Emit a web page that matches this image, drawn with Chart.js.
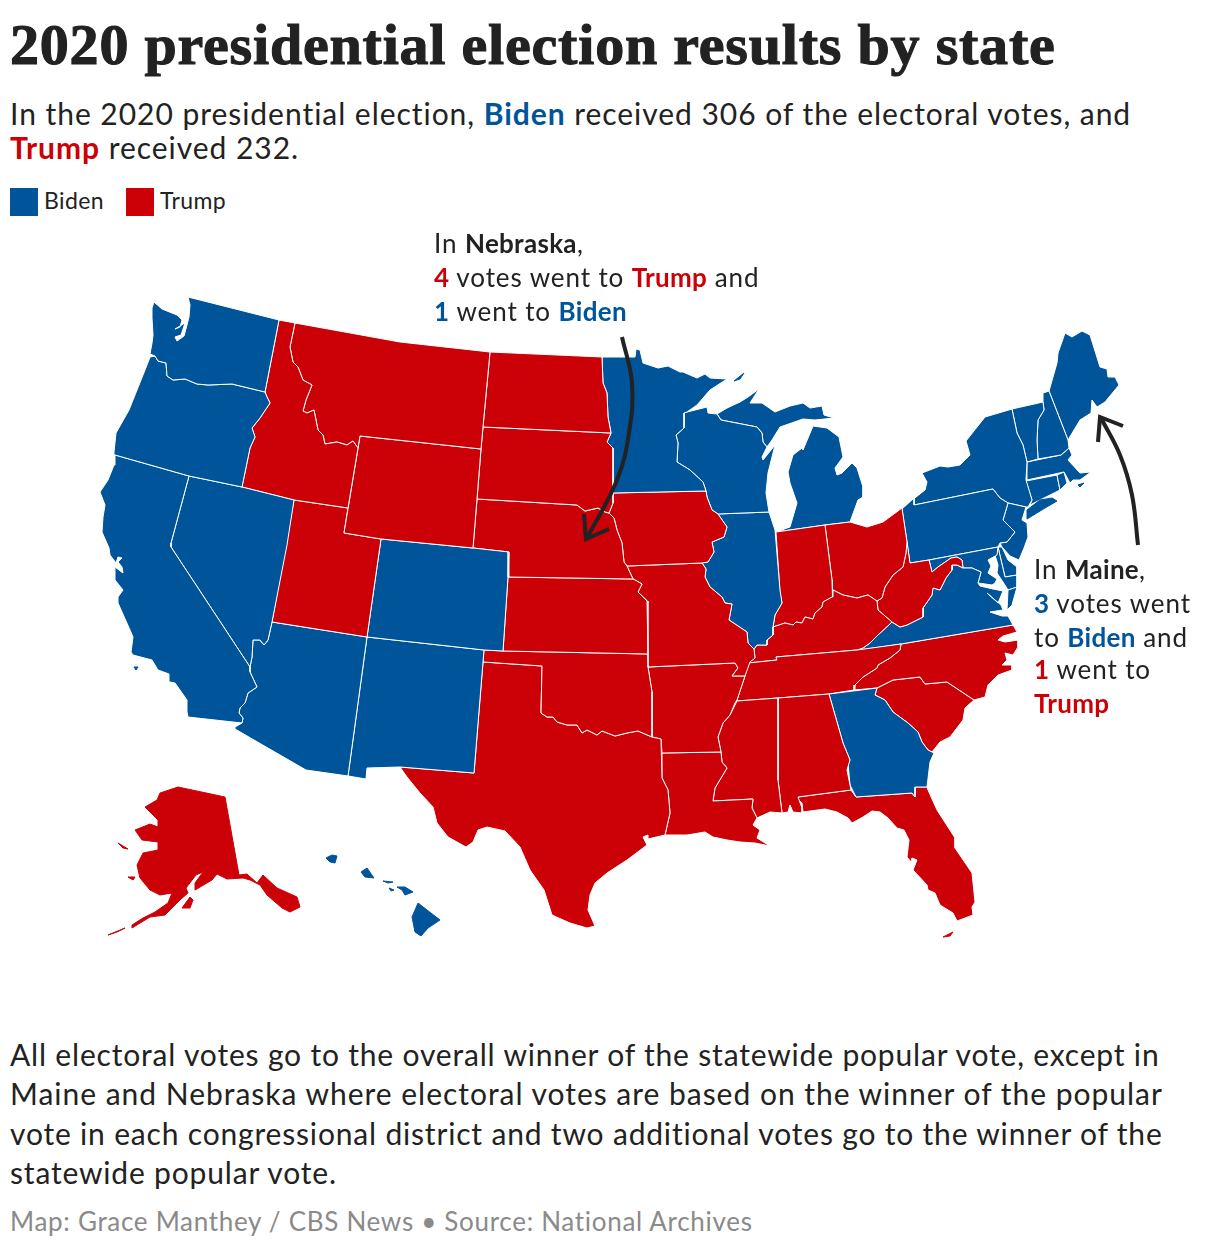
<!DOCTYPE html>
<html>
<head>
<meta charset="utf-8">
<script src="https://cdn.jsdelivr.net/npm/chart.js@4"></script>
<style>
body{margin:0;background:#fff;color:#222;font-family:Lato,sans-serif;}
#page{position:relative;width:1220px;height:1250px;overflow:hidden;}
#mapWrap{position:absolute;left:0;top:225px;width:1220px;height:740px;}
.t{position:absolute;white-space:nowrap;line-height:34px;}
.title{font-family:"Liberation Serif",serif;font-weight:700;font-size:58px;line-height:60px;left:10px;top:15px;letter-spacing:.8px;-webkit-text-stroke:1.1px #222;}
.sub{font-size:30px;left:10px;letter-spacing:.96px;}
.note{font-size:26px;letter-spacing:.9px;}
.note span,.note strong{letter-spacing:.3px;}
.body{font-size:30px;left:10px;letter-spacing:.82px;}
.foot{font-size:26px;left:10px;color:#8a8a8a;letter-spacing:.7px;}
.leg{font-size:23px;top:183px;letter-spacing:.4px;}
.sw{position:absolute;top:188px;width:28px;height:28px;}
.b{color:#00559a;font-weight:700;}
.r{color:#cc0007;font-weight:700;}
strong{font-weight:700;}
</style>
</head>
<body>
<div id="page">
  <div class="t title">2020 presidential election results by state</div>
  <div class="t sub" style="top:96px">In the 2020 presidential election, <span class="b">Biden</span> received 306 of the electoral votes, and</div>
  <div class="t sub" style="top:130px"><span class="r">Trump</span> received 232.</div>
  <div class="sw" style="left:10px;background:#00559a"></div>
  <div class="t leg" style="left:44px">Biden</div>
  <div class="sw" style="left:126px;background:#cc0007"></div>
  <div class="t leg" style="left:160px">Trump</div>

  <div id="mapWrap"><canvas id="map" width="1220" height="740"></canvas></div>

  <div class="t note" style="left:434px;top:226px">In <strong>Nebraska</strong>,</div>
  <div class="t note" style="left:434px;top:260px"><span class="r">4</span> votes went to <span class="r">Trump</span> and</div>
  <div class="t note" style="left:434px;top:294px"><span class="b">1</span> went to <span class="b">Biden</span></div>

  <div class="t note" style="left:1034px;top:552px">In <strong>Maine</strong>,</div>
  <div class="t note" style="left:1034px;top:586px"><span class="b">3</span> votes went</div>
  <div class="t note" style="left:1034px;top:620px">to <span class="b">Biden</span> and</div>
  <div class="t note" style="left:1034px;top:652px"><span class="r">1</span> went to</div>
  <div class="t note" style="left:1034px;top:686px"><span class="r">Trump</span></div>

  <div class="t body" style="top:1037px">All electoral votes go to the overall winner of the statewide popular vote, except in</div>
  <div class="t body" style="top:1076px;letter-spacing:.98px">Maine and Nebraska where electoral votes are based on the winner of the popular</div>
  <div class="t body" style="top:1116px">vote in each congressional district and two additional votes go to the winner of the</div>
  <div class="t body" style="top:1155px">statewide popular vote.</div>
  <div class="t foot" style="top:1204px">Map: Grace Manthey / CBS News • Source: National Archives</div>
</div>
<script>
// outlines are x,y pairs in map units
const shapeNames=["WA","OR","CA","NV","ID","MT","WY","UT","CO","AZ","NM","ND","SD","NE","KS","OK","TX","MN","IA","MO","AR","LA","WI","IL","MS","AL","GA","FL","FL keys","TN","KY","IN","OH","WV","VA","VA shore","MD","MD shore","DE","PA","NJ","NY","Long Island","VT","NH","ME","MA","Nantucket","RI","CT","NC","SC","MI lower","MI upper","Isle Royale","AK","AK tail","St Lawrence","Nunivak","Kodiak","Kauai","Oahu","Molokai","Lanai","Maui","Big Island","Channel Is","Puget water","Laguna water"];
const shapeWinners=["B","B","B","B","T","T","T","T","B","B","B","T","T","T","T","T","T","B","T","T","T","T","B","B","T","T","B","T","T","T","T","T","T","T","B","B","B","B","B","B","B","B","B","B","B","B","B","B","B","B","T","T","B","B","B","T","T","T","T","T","B","B","B","B","B","B","B","W","W"];
const islandShapes=["FL keys","Long Island","Nantucket","Isle Royale","AK","AK tail","St Lawrence","Nunivak","Kodiak","Kauai","Oahu","Molokai","Lanai","Maui","Big Island","Channel Is"];
const shapeOutlines=[
[188,297,279,320,265,392,232,384,208,385,197,384,185,379,173,380,167,376,166,363,158,361,155,356,150,354,152,343,153,335,152,318,152,308,154,302,162,309,177,315,182,320,180,327,175,329,185,323,181,335,175,337,177,341,184,336,187,325,189,317,190,305],
[150,357,155,356,158,361,166,363,167,376,173,380,185,379,197,384,208,385,232,384,265,392,267,397,270,403,260,418,252,428,255,437,250,448,242,487,189,476,115,455,114,452,116,433,129,410,147,365],
[115,455,189,476,171,543,171,547,250,667,250,672,257,687,248,693,245,703,240,708,239,713,243,718,242,723,188,717,187,712,187,700,175,683,170,682,169,674,158,670,152,660,133,655,131,652,133,637,130,630,118,603,118,597,123,590,115,580,115,567,123,573,122,567,118,562,122,558,118,557,116,563,110,555,109,548,102,532,103,517,105,505,100,492,108,480,114,465],
[189,476,242,487,294,500,287,545,272,622,268,640,264,645,260,640,253,640,252,657,250,667,171,547,171,543],
[279,320,295,323,290,347,293,362,298,367,303,380,312,385,306,400,303,411,307,413,314,410,318,430,323,435,325,444,337,442,347,445,353,441,358,448,348,508,294,500,242,487,250,448,255,437,252,428,260,418,270,403,267,397,265,392],
[295,323,400,342,490,352,483,427,481,449,360,436,358,448,353,441,347,445,337,442,325,444,323,435,318,430,314,410,307,413,303,411,306,400,312,385,303,380,298,367,293,362,290,347],
[360,436,481,449,477,499,473,548,381,539,344,533],
[294,500,348,508,344,533,381,539,367,637,272,622],
[381,539,473,548,509,552,508,577,503,651,484,650,367,637],
[272,622,367,637,348,776,306,770,235,729,235,727,242,723,243,718,239,713,240,708,245,703,248,693,257,687,250,672,250,667,252,657,253,640,260,640,264,645,268,640],
[367,637,484,650,483,662,474,773,400,767,367,768,366,779,348,776],
[490,352,602,357,603,383,607,393,608,417,611,433,483,427],
[483,427,611,433,607,442,613,448,613,493,613,503,609,513,605,512,598,508,585,511,577,505,477,499,481,449],
[477,499,577,505,585,511,598,508,605,512,609,513,614,518,617,530,622,543,624,562,627,566,633,579,508,577,509,552,473,548],
[508,577,633,579,635,580,642,584,638,592,647,601,648,654,503,651],
[484,650,503,651,648,654,648,667,652,692,652,737,638,731,627,733,615,736,602,731,597,735,587,730,582,733,577,725,567,725,557,722,553,717,547,717,541,713,542,666,483,662],
[483,662,542,666,541,713,547,717,553,717,557,722,567,725,577,725,582,733,587,730,597,735,602,731,615,736,627,733,638,731,652,737,661,739,662,778,668,790,670,813,665,835,648,839,648,835,643,837,647,845,627,860,607,873,595,883,590,895,588,910,595,926,587,928,570,923,552,915,544,890,530,870,520,847,505,831,487,827,478,830,473,842,466,847,448,837,437,823,433,807,420,793,407,777,400,767,474,773],
[602,357,635,357,636,349,640,350,643,363,658,368,668,366,680,372,683,372,697,378,705,374,710,378,727,379,710,390,697,405,687,412,684,413,684,428,676,435,678,443,677,462,690,470,703,482,706,491,613,493,613,448,607,442,611,433,608,417,607,393,603,383],
[613,493,706,491,707,497,712,510,718,514,727,527,724,537,712,542,714,552,708,562,702,563,627,566,624,562,622,543,617,530,614,518,609,513,613,503],
[627,566,702,563,706,569,705,577,710,587,722,597,725,603,732,604,729,620,747,632,748,643,754,649,755,658,750,662,745,676,732,676,738,668,735,663,648,667,648,654,647,601,638,592,642,584,635,580,633,579],
[648,667,735,663,738,668,732,676,745,676,742,685,737,700,735,703,730,715,723,723,718,737,721,752,662,753,661,739,652,737,652,692],
[662,753,721,752,722,762,727,768,715,788,713,801,753,799,752,808,757,818,753,825,760,830,757,838,770,846,755,843,740,842,727,840,713,837,705,832,687,835,665,835,670,813,668,790,662,778],
[687,412,707,407,708,413,717,414,721,420,757,427,762,433,763,442,767,447,762,457,763,460,775,445,768,473,766,493,769,512,718,514,712,510,707,497,706,491,703,482,690,470,677,462,678,443,676,435,684,428,684,413],
[718,514,769,512,775,530,780,590,782,603,775,615,773,627,773,635,767,640,767,645,757,645,754,649,748,643,747,632,729,620,732,604,725,603,722,597,710,587,705,577,706,569,702,563,708,562,714,552,712,542,724,537,727,527],
[737,701,778,698,778,780,782,813,770,812,757,818,752,808,753,799,713,801,715,788,727,768,722,762,721,752,718,737,723,723,730,715],
[778,698,829,694,843,743,850,760,847,770,851,790,798,797,802,808,802,813,793,812,790,805,788,812,782,813,778,780],
[829,694,877,688,875,695,885,700,893,712,908,723,918,732,922,742,928,750,934,753,930,762,927,787,915,787,915,797,912,793,856,797,850,785,848,763,850,760,843,743],
[798,797,851,790,856,797,912,793,915,797,915,787,927,787,928,790,937,810,955,838,955,848,972,873,975,902,972,907,973,915,957,921,953,913,940,905,935,893,928,890,927,885,913,870,917,860,912,858,912,863,907,857,909,840,904,830,897,828,888,818,880,812,872,811,863,817,852,823,848,818,837,812,825,809,803,812,802,803,797,799],
[943,937,953,932,950,936],
[748,663,777,660,776,657,857,650,901,644,900,650,890,658,878,665,877,668,863,677,855,685,854,690,829,694,778,698,737,701,737,700,742,685,745,676],
[755,658,754,649,757,645,767,645,767,640,773,635,773,627,785,623,793,625,796,622,802,623,805,617,813,619,815,613,822,607,823,602,832,597,833,590,843,595,857,598,868,595,877,601,878,610,892,622,878,635,870,643,863,648,857,650,776,657,777,660,748,663],
[776,532,825,525,832,580,833,590,832,597,823,602,822,607,815,613,813,619,805,617,802,623,796,622,793,625,785,623,773,627,775,615,782,603,780,593],
[825,525,850,522,867,527,883,522,902,508,907,542,906,553,903,567,893,575,885,587,882,598,877,601,868,595,857,598,843,595,833,590,832,580],
[907,542,910,563,929,560,932,572,938,567,951,558,957,557,962,560,963,568,957,565,952,565,952,570,946,578,940,590,933,588,932,595,923,608,923,617,913,622,907,625,900,627,892,622,878,610,877,601,882,598,885,587,893,575,903,567,906,553],
[963,568,972,568,981,572,978,583,980,586,993,589,1003,591,998,603,987,593,1001,605,1003,610,990,612,1002,616,1008,616,1013,625,901,644,860,650,863,648,870,643,878,635,892,622,900,627,907,625,913,622,923,617,923,608,932,595,933,588,940,590,946,578,952,570,952,565,957,565],
[1008,590,1017,587,1012,605,1007,610],
[929,560,998,547,997,555,988,560,991,566,988,573,997,579,995,583,992,585,978,583,981,572,972,568,963,568,962,560,957,557,951,558,938,567,932,572],
[998,547,1005,577,1017,575,1017,587,1008,590,1003,582,997,573,998,565,995,555],
[998,547,1002,547,1008,560,1017,567,1017,575,1005,577],
[902,509,914,498,914,505,993,489,1000,498,1008,503,1003,520,1015,532,1007,542,1000,543,998,547,929,560,910,563,907,542],
[1008,503,1026,507,1022,520,1027,523,1028,537,1024,548,1019,560,1010,556,1002,547,1000,543,1007,542,1015,532,1003,520],
[902,508,925,490,927,482,922,473,940,466,948,467,960,465,970,455,966,441,985,417,1012,409,1017,433,1023,445,1027,462,1026,480,1032,500,1028,507,1026,507,1008,503,1000,498,993,489,914,505,914,498],
[1027,510,1040,500,1052,498,1057,501,1045,508,1027,519],
[1012,409,1043,402,1044,410,1038,420,1037,440,1038,459,1027,462,1023,445,1017,433],
[1043,402,1043,393,1049,391,1068,440,1069,448,1061,455,1038,459,1037,440,1038,420,1044,410],
[1049,391,1057,363,1058,353,1065,333,1072,337,1082,331,1090,335,1100,367,1107,369,1108,377,1115,377,1119,385,1105,402,1097,407,1092,400,1091,413,1080,420,1068,440],
[1027,462,1061,455,1069,448,1072,455,1068,460,1080,473,1091,472,1080,480,1073,480,1070,483,1064,472,1027,480],
[1078,485,1084,483,1080,487],
[1057,475,1064,472,1067,483,1060,490],
[1026,481,1057,475,1060,490,1030,505,1032,500],
[1013,625,1017,632,1003,636,998,640,1005,642,1018,640,1018,647,1013,655,1005,653,1007,660,1002,665,1012,665,1012,670,998,675,988,685,985,697,974,700,947,682,925,684,920,677,893,680,877,688,854,690,855,685,863,677,877,668,878,665,890,658,900,650,901,644],
[877,688,893,680,920,677,925,684,947,682,974,700,965,708,963,720,950,737,940,742,932,752,928,750,922,742,918,732,908,723,893,712,885,700,875,695],
[776,532,790,527,797,503,790,483,788,472,793,455,802,448,803,450,813,426,827,428,839,437,843,457,835,468,837,475,842,473,852,463,857,468,863,487,863,497,858,500,850,522,825,525],
[717,414,727,408,740,402,748,397,759,389,750,403,762,403,775,412,790,406,803,403,810,408,822,406,824,415,834,418,815,420,803,419,780,427,772,440,767,447,763,442,762,433,757,427,721,420],
[734,381,744,373,740,379],
[178,787,225,797,239,875,247,874,257,883,263,875,277,888,297,897,300,907,290,912,282,908,267,895,260,885,250,880,243,878,227,879,217,874,212,880,195,890,195,883,203,872,196,875,186,888,188,893,180,900,165,915,150,917,132,928,132,925,143,918,155,912,168,903,172,893,160,895,150,890,140,878,137,865,143,853,158,850,158,842,142,840,135,830,150,824,158,827,158,820,145,807,157,800,160,793],
[108,935,125,928,117,932],
[118,843,128,849,123,848],
[128,877,135,877,133,880],
[182,908,190,897,193,900,190,908],
[326,858,332,855,337,856,335,863,330,862],
[361,872,367,868,374,878,365,877],
[383,881,393,882,388,883],
[389,888,394,890,391,891],
[397,887,405,887,413,892,405,895,402,890],
[418,903,440,920,428,928,421,936,415,932,412,917],
[134,667,138,667,136,670],
[180,305,186,303,187,306,183,308],
[600,873,592,885,589,897,589,910,593,925,591,910,591,897,594,886]
];
// arrows: curve then head
const nebraskaArrow=[622,337,632,383,629,433,617,480,587,538];
const nebraskaHead=[584,514,586,539,609,529];
const maineArrow=[1138,545,1132,495,1120,455,1101,418];
const maineHead=[1098,442,1100,417,1123,426];

const winnerColors={B:"#00559a",T:"#cc0007",W:"#fff"};
const inkColor="#222";

function toPoints(flat){
  const pts=[];
  for(let i=0;i<flat.length;i+=2) pts.push({x:flat[i],y:flat[i+1]});
  return pts;
}

const datasets=shapeOutlines.map((o,i)=>{
  const pts=toPoints(o);
  pts.push(pts[0]);
  const fillColor=winnerColors[shapeWinners[i]];
  return {
    label:shapeNames[i],
    data:pts,
    showLine:true,
    fill:"shape",
    backgroundColor:fillColor,
    borderColor:islandShapes.includes(shapeNames[i])?fillColor:"#fff",
    borderWidth:1,
    pointRadius:0,
    tension:0,
    order:2
  };
});

// arrows sit on top of the states
[[nebraskaArrow,.4],[nebraskaHead,0],[maineArrow,.4],[maineHead,0]].forEach(a=>{
  datasets.push({
    data:toPoints(a[0]),
    showLine:true,
    fill:false,
    borderColor:inkColor,
    borderWidth:4,
    pointRadius:0,
    tension:a[1],
    order:1
  });
});

new Chart(document.getElementById("map"),{
  type:"scatter",
  data:{datasets:datasets},
  options:{
    responsive:false,
    animation:false,
    layout:{padding:0},
    plugins:{legend:{display:false},tooltip:{enabled:false}},
    scales:{
      x:{type:"linear",min:0,max:1220,display:false},
      y:{type:"linear",min:225,max:965,reverse:true,display:false}
    }
  }
});
</script>
</body>
</html>
